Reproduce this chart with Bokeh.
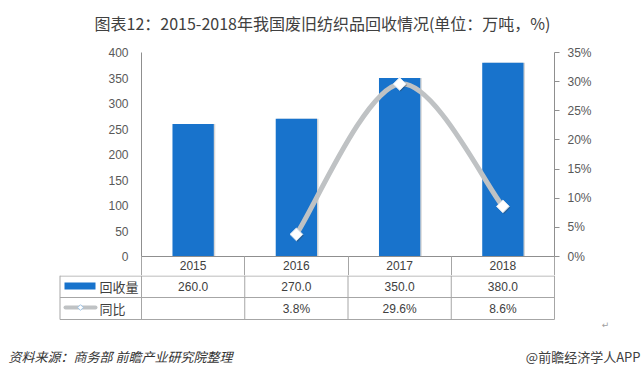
from bokeh.plotting import figure
from bokeh.models import Range1d, LinearAxis, FixedTicker, PrintfTickFormatter
from bokeh.layouts import column
from bokeh.embed import file_html
from bokeh.resources import INLINE
from bokeh.core.properties import value

# ---------------- data ----------------
title_text = "图表12：2015-2018年我国废旧纺织品回收情况(单位：万吨，%)"
years = [2015, 2016, 2017, 2018]
volume = [260.0, 270.0, 350.0, 380.0]          # 回收量 (万吨)
yoy_years = [2016, 2017, 2018]
yoy = [3.8, 29.6, 8.6]                          # 同比 (%)
left_ticks = [0, 50, 100, 150, 200, 250, 300, 350, 400]
right_ticks = [0, 5, 10, 15, 20, 25, 30, 35]
series_names = ["回收量", "同比"]
source_text = "资料来源：商务部 前瞻产业研究院整理"
brand_text = "@前瞻经济学人APP"

# ---------------- styles / layout ----------------
BLUE = "#1873CC"
GREY_LINE = "#BFC2C4"
AXIS = "#8F8F8F"
GRID = "#A6A6A6"
TXT = "#404040"
NUM_FONT = value("Liberation Sans")
CJK_FONT = value("Noto Sans CJK SC")
W = 641
FRAME_LEFT = 141
FRAME_W = 413
FRAME_H = 204

common = dict(toolbar_location=None, output_backend="svg",
              x_axis_location=None, y_axis_location=None,
              outline_line_color=None, background_fill_color="white",
              border_fill_color="white", frame_align=False)

# ---------------- header ----------------
HDR_H = 40
hdr = figure(width=W, height=HDR_H, x_range=Range1d(0, W), y_range=Range1d(HDR_H, 0),
             min_border=0, **common)
hdr.grid.visible = False
hdr.text(x=[322], y=[22], text=[title_text], text_align="center", text_baseline="middle",
         text_font=CJK_FONT, text_font_size="16px", text_color=TXT)

# ---------------- chart ----------------
bounds = [y - 0.5 for y in years] + [years[-1] + 0.5]
px_per_year = FRAME_W / len(years)
p = figure(width=W, height=235,
           x_range=Range1d(bounds[0], bounds[-1]), y_range=Range1d(left_ticks[0], left_ticks[-1]),
           min_border_left=FRAME_LEFT, min_border_right=W - FRAME_LEFT - FRAME_W,
           min_border_top=12, min_border_bottom=19, **common)
p.grid.visible = False
p.extra_y_ranges = {"pct": Range1d(right_ticks[0], right_ticks[-1])}

yl = LinearAxis(ticker=FixedTicker(ticks=left_ticks))
yl.axis_line_color = AXIS
yl.major_tick_out = 0
yl.major_tick_in = 0
yl.minor_tick_out = 0
yl.minor_tick_in = 0
yl.major_label_standoff = 13
yl.major_label_text_font = "Liberation Sans"
yl.major_label_text_font_size = "12px"
yl.major_label_text_color = "#595959"
p.add_layout(yl, "left")

yr = LinearAxis(y_range_name="pct", ticker=FixedTicker(ticks=right_ticks),
                formatter=PrintfTickFormatter(format="%d%%"))
yr.axis_line_color = AXIS
yr.major_tick_out = 5
yr.major_tick_in = 0
yr.major_tick_line_color = AXIS
yr.minor_tick_out = 0
yr.minor_tick_in = 0
yr.major_label_standoff = 8
yr.major_label_text_font = "Liberation Sans"
yr.major_label_text_font_size = "12px"
yr.major_label_text_color = "#595959"
p.add_layout(yr, "right")

xb = LinearAxis(ticker=FixedTicker(ticks=years, minor_ticks=bounds))
xb.axis_line_color = AXIS
xb.major_tick_out = 0
xb.major_tick_in = 0
xb.minor_tick_out = 19
xb.minor_tick_in = 0
xb.minor_tick_line_color = GRID
xb.major_label_standoff = -15
xb.major_label_text_font = "Liberation Sans"
xb.major_label_text_font_size = "12px"
xb.major_label_text_color = TXT
p.add_layout(xb, "below")

# faint drop shadow, then bars
shadow_dx = 1.5 / px_per_year
p.vbar(x=[y + shadow_dx for y in years], top=volume, width=0.4,
       fill_color="#BDBDBD", fill_alpha=0.6, line_color=None)
p.vbar(x=years, top=volume, width=0.4, fill_color=BLUE, line_color=None)


def smooth_segments(xs, ys):
    n = len(xs)
    out = {k: [] for k in ("x0", "y0", "x1", "y1", "cx0", "cy0", "cx1", "cy1")}
    for i in range(n - 1):
        xa, ya, xb_, yb = xs[i], ys[i], xs[i + 1], ys[i + 1]
        xp, yp = (xs[i - 1], ys[i - 1]) if i > 0 else (xa, ya)
        xn, yn = (xs[i + 2], ys[i + 2]) if i + 2 < n else (xb_, yb)
        out["x0"].append(xa); out["y0"].append(ya)
        out["x1"].append(xb_); out["y1"].append(yb)
        out["cx0"].append(xa + (xb_ - xp) / 6); out["cy0"].append(ya + (yb - yp) / 6)
        out["cx1"].append(xb_ - (xn - xa) / 6); out["cy1"].append(yb - (yn - ya) / 6)
    return out


seg = smooth_segments(yoy_years, yoy)
p.bezier(line_color=GREY_LINE, line_width=5, line_cap="round", y_range_name="pct", **seg)
pct_per_px = (right_ticks[-1] - right_ticks[0]) / FRAME_H
p.scatter(x=[y + 1.2 / px_per_year for y in yoy_years], y=[v - 1.2 * pct_per_px for v in yoy],
          marker="square", angle=0.785398, size=9, fill_color="#404040", fill_alpha=0.35,
          line_color=None, y_range_name="pct")
p.scatter(x=yoy_years, y=yoy, marker="square", angle=0.785398, size=9,
          fill_color="white", line_color="#DCE6F0", line_width=1, y_range_name="pct")

# ---------------- table + footer ----------------
TB_H = 97


def px2x(px):
    return bounds[0] + (px - FRAME_LEFT) / px_per_year


tb = figure(width=W, height=TB_H, x_range=Range1d(px2x(0), px2x(W)),
            y_range=Range1d(TB_H, 0), min_border=0, **common)
tb.grid.visible = False

tbl_left = px2x(59.5)
row_tops = [0.5, 22, 44]
tb.segment(x0=[tbl_left] * 3, x1=[bounds[-1]] * 3, y0=row_tops, y1=row_tops,
           line_color=GRID, line_width=1)
vx = [tbl_left] + bounds
tb.segment(x0=vx, x1=vx, y0=[0] * len(vx), y1=[44] * len(vx), line_color=GRID, line_width=1)

tb.text(x=years, y=[11] * len(years), text=[f"{v:.1f}" for v in volume],
        text_align="center", text_baseline="middle", text_font=NUM_FONT,
        text_font_size="12px", text_color=TXT)
tb.text(x=yoy_years, y=[33] * len(yoy_years), text=[f"{v:.1f}%" for v in yoy],
        text_align="center", text_baseline="middle", text_font=NUM_FONT,
        text_font_size="12px", text_color=TXT)

# legend keys
tb.quad(left=[px2x(64)], right=[px2x(95)], top=[7], bottom=[14], fill_color=BLUE, line_color=None)
tb.segment(x0=[px2x(65)], x1=[px2x(95)], y0=[32], y1=[32], line_color=GREY_LINE,
           line_width=4, line_cap="round")
tb.scatter(x=[px2x(80)], y=[32], marker="square", angle=0.785398, size=4,
           fill_color="white", line_color="#9DC3E6")
tb.text(x=[px2x(99)] * 2, y=[11, 33], text=series_names, text_align="left",
        text_baseline="middle", text_font=CJK_FONT, text_font_size="13px", text_color=TXT)

# footer
tb.text(x=[px2x(8)], y=[81], text=[source_text], text_align="left", text_baseline="middle",
        text_font=CJK_FONT, text_font_size="13px", text_font_style="italic", text_color="#333333")
tb.text(x=[px2x(640)], y=[81], text=[brand_text], text_align="right", text_baseline="middle",
        text_font=CJK_FONT, text_font_size="13px", text_color=TXT)
tb.text(x=[px2x(605)], y=[49], text=["↵"], text_align="center", text_baseline="middle",
        text_font=value("DejaVu Sans"), text_font_size="9px", text_color="#A0A0A0")

layout = column(hdr, p, tb)
open("out.html", "w").write(file_html(layout, INLINE, title="chart"))
